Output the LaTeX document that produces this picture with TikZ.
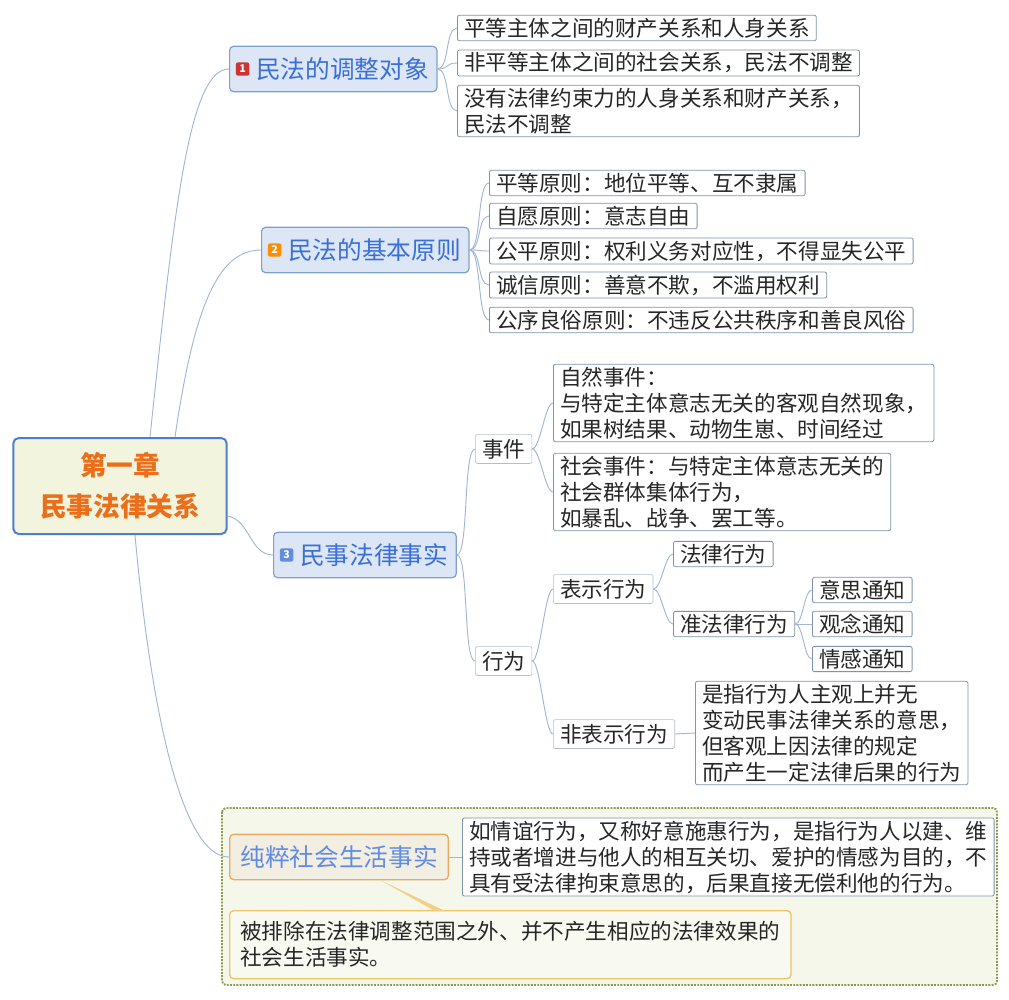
\documentclass[tikz,border=0pt]{standalone}
\usepackage{fontspec}
\setmainfont{Noto Sans CJK SC}
\usetikzlibrary{positioning}
\definecolor{lnk}{HTML}{9FB6D6}
\definecolor{bfill}{HTML}{DCE6F5}
\definecolor{bdraw}{HTML}{7F9FCC}
\definecolor{btext}{HTML}{3B6FD8}
\definecolor{cdraw}{HTML}{7E93AE}
\definecolor{rootfill}{HTML}{F2F4DD}
\definecolor{rootdraw}{HTML}{4A7FD4}
\definecolor{roottext}{HTML}{EB6F1A}
\definecolor{framefill}{HTML}{F4F7EA}
\definecolor{framedraw}{HTML}{8C9A4A}
\definecolor{ofill}{HTML}{F2EEE2}
\definecolor{odraw}{HTML}{EBA962}
\definecolor{ydraw}{HTML}{EBC466}
\begin{document}
\begin{tikzpicture}[x=0.75pt,y=-0.75pt,
  every node/.style={font=\fontsize{16.2pt}{19.5pt}\selectfont, text=black!85},
  cbox/.style={draw=cdraw, fill=white, rounded corners=1.5pt, anchor=west, align=left, inner xsep=5pt, inner ysep=2pt, line width=0.6pt},
  plain/.style={draw=cdraw!60, fill=white, rounded corners=1.5pt, anchor=west, align=left, inner xsep=5pt, line width=0.5pt},
  branch/.style={draw=bdraw, fill=bfill, rounded corners=3pt, anchor=west, text=btext, font=\fontsize{18.5pt}{22pt}\selectfont, minimum height=34pt, inner xsep=6pt, line width=0.9pt},
  badge/.style={rounded corners=1.5pt, text=white, font=\fontsize{8pt}{9pt}\selectfont\bfseries, inner sep=1.5pt, minimum size=10pt},
  lk/.style={draw=lnk, line width=0.7pt}]
\useasboundingbox (0,0) rectangle (1009,999);
% frame
\draw[framedraw, fill=framefill, densely dotted, line width=1.4pt, rounded corners=3pt] (222,808) rectangle (997,985);
% root
\node[draw=rootdraw, fill=rootfill, line width=1.5pt, rounded corners=4pt, minimum width=160pt, minimum height=72pt, align=center, text=roottext, font=\fontsize{20pt}{31pt}\selectfont\bfseries] (root) at (120,486) {第一章\\民事法律关系};
% branches
\node[branch] (b1) at (229,69) {\hspace{14pt}民法的调整对象};
\node[badge, fill=red!75!black!80, right=5pt of b1.west] {1};
\node[branch] (b2) at (261,250) {\hspace{14pt}民法的基本原则};
\node[badge, fill=orange!90!yellow, right=5pt of b2.west] {2};
\node[branch] (b3) at (273,555) {\hspace{14pt}民事法律事实};
\node[badge, fill=btext!80, right=5pt of b3.west] {3};
\node[draw=odraw, fill=ofill, rounded corners=3pt, anchor=west, text=btext!80, font=\fontsize{18.5pt}{22pt}\selectfont, minimum height=34pt, inner xsep=8pt, line width=1pt] (b4) at (229,857) {纯粹社会生活事实};
% root links
\draw[lk] (150,437) .. controls (175,200) and (190,69) .. (b1.west);
\draw[lk] (175,437) .. controls (195,300) and (220,250) .. (b2.west);
\draw[lk] (root.east) ++(0,30) .. controls (250,520) and (250,555) .. (b3.west);
\draw[lk] (135,535) .. controls (150,700) and (180,857) .. (b4.west);
% branch1 children
\node[cbox] (c11) at (457,28) {平等主体之间的财产关系和人身关系};
\node[cbox] (c12) at (457,63) {非平等主体之间的社会关系，民法不调整};
\node[cbox] (c13) at (457,111) {没有法律约束力的人身关系和财产关系，\\民法不调整};
\foreach \c in {c11,c12,c13} \draw[lk] (b1.east) .. controls +(12,0) and +(-12,0) .. (\c.west);
% branch2 children
\node[cbox] (c21) at (489,183) {平等原则：地位平等、互不隶属};
\node[cbox] (c22) at (489,216) {自愿原则：意志自由};
\node[cbox] (c23) at (489,251) {公平原则：权利义务对应性，不得显失公平};
\node[cbox] (c24) at (489,285) {诚信原则：善意不欺，不滥用权利};
\node[cbox] (c25) at (489,320) {公序良俗原则：不违反公共秩序和善良风俗};
\foreach \c in {c21,c22,c23,c24,c25} \draw[lk] (b2.east) .. controls +(12,0) and +(-12,0) .. (\c.west);
% branch3
\node[plain] (sj) at (475,449) {事件};
\node[plain] (xw) at (475,661) {行为};
\draw[lk] (b3.east) .. controls +(12,0) and +(-12,0) .. (sj.west);
\draw[lk] (b3.east) .. controls +(12,0) and +(-12,0) .. (xw.west);
\node[cbox] (zr) at (553,403) {自然事件：\\与特定主体意志无关的客观自然现象，\\如果树结果、动物生崽、时间经过};
\node[cbox] (sh) at (553,492) {社会事件：与特定主体意志无关的\\社会群体集体行为，\\如暴乱、战争、罢工等。};
\draw[lk] (sj.east) .. controls +(8,0) and +(-8,0) .. (zr.west);
\draw[lk] (sj.east) .. controls +(8,0) and +(-8,0) .. (sh.west);
\node[plain] (bs) at (553,589) {表示行为};
\node[plain] (fbs) at (553,734) {非表示行为};
\draw[lk] (xw.east) .. controls +(8,0) and +(-8,0) .. (bs.west);
\draw[lk] (xw.east) .. controls +(8,0) and +(-8,0) .. (fbs.west);
\node[cbox] (fl) at (673,554) {法律行为};
\node[cbox] (zfl) at (673,624) {准法律行为};
\draw[lk] (bs.east) .. controls +(8,0) and +(-8,0) .. (fl.west);
\draw[lk] (bs.east) .. controls +(8,0) and +(-8,0) .. (zfl.west);
\node[cbox] (ys) at (812,590) {意思通知};
\node[cbox] (gn) at (812,624) {观念通知};
\node[cbox] (qg) at (812,659) {情感通知};
\foreach \c in {ys,gn,qg} \draw[lk] (zfl.east) .. controls +(8,0) and +(-8,0) .. (\c.west);
\node[cbox] (fd) at (695,733) {是指行为人主观上并无\\变动民事法律关系的意思，\\但客观上因法律的规定\\而产生一定法律后果的行为};
\draw[lk] (fbs.east) -- (fd.west);
% branch4
\node[cbox] (pd) at (462,857) {如情谊行为，又称好意施惠行为，是指行为人以建、维\\持或者增进与他人的相互关切、爱护的情感为目的，不\\具有受法律拘束意思的，后果直接无偿利他的行为。};
\draw[lk] (b4.east) -- (pd.west);
\node[draw=ydraw, fill=framefill!60!white, rounded corners=3pt, anchor=north west, align=left, minimum width=413pt, minimum height=51pt, inner xsep=8pt, line width=1pt] (cl) at (229,910) {被排除在法律调整范围之外、并不产生相应的法律效果的\\社会生活事实。};
\coordinate (t1) at (380,880);
\fill[ydraw!80] (t1) -- (435,911) -- (445,911) -- cycle;
\end{tikzpicture}
\end{document}
